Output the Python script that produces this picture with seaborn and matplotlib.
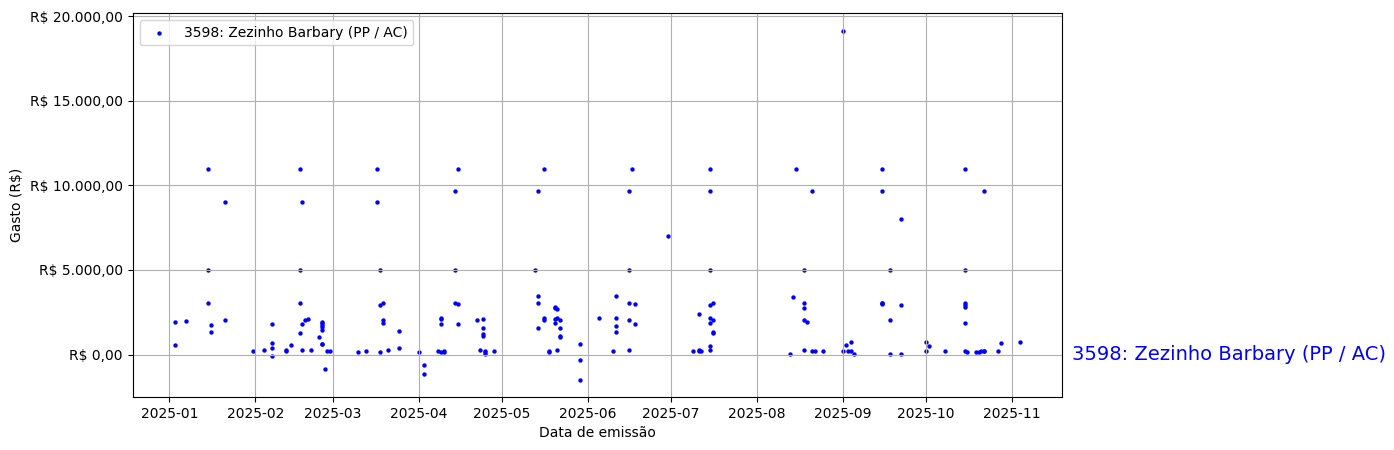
import pandas as pd
import matplotlib
matplotlib.use("Agg")
import matplotlib.pyplot as plt
import matplotlib.dates as mdates
import matplotlib.transforms as mtransforms
from matplotlib.ticker import FuncFormatter
import seaborn as sns

# --- DADOS ---
PARLAMENTAR = "3598: Zezinho Barbary (PP / AC)"
OUTPUT_CHART = "out.png"

datas = [
    "2025-01-03", "2025-01-03", "2025-01-07", "2025-01-15", "2025-01-15", "2025-01-15",
    "2025-01-16", "2025-01-16", "2025-01-21", "2025-01-21", "2025-01-31",
    "2025-02-04", "2025-02-07", "2025-02-07", "2025-02-07", "2025-02-07",
    "2025-02-12", "2025-02-12", "2025-02-14",
    "2025-02-17", "2025-02-17", "2025-02-17", "2025-02-17",
    "2025-02-18", "2025-02-18", "2025-02-18", "2025-02-19", "2025-02-20", "2025-02-21",
    "2025-02-24", "2025-02-25", "2025-02-25", "2025-02-25", "2025-02-25", "2025-02-25",
    "2025-02-25", "2025-02-25", "2025-02-26", "2025-02-27", "2025-02-28",
    "2025-03-10", "2025-03-13", "2025-03-17", "2025-03-17",
    "2025-03-18", "2025-03-18", "2025-03-18", "2025-03-19", "2025-03-19", "2025-03-19",
    "2025-03-21", "2025-03-25", "2025-03-25",
    "2025-04-01", "2025-04-03", "2025-04-03", "2025-04-08",
    "2025-04-09", "2025-04-09", "2025-04-09", "2025-04-09", "2025-04-10", "2025-04-10",
    "2025-04-14", "2025-04-14", "2025-04-14", "2025-04-15", "2025-04-15", "2025-04-15",
    "2025-04-22", "2025-04-23", "2025-04-24", "2025-04-24", "2025-04-24", "2025-04-24",
    "2025-04-25", "2025-04-25", "2025-04-25", "2025-04-28",
    "2025-05-13", "2025-05-14", "2025-05-14", "2025-05-14", "2025-05-14",
    "2025-05-16", "2025-05-16", "2025-05-16", "2025-05-18", "2025-05-18",
    "2025-05-20", "2025-05-20", "2025-05-20", "2025-05-20",
    "2025-05-21", "2025-05-21", "2025-05-21",
    "2025-05-22", "2025-05-22", "2025-05-22", "2025-05-22",
    "2025-05-29", "2025-05-29", "2025-05-29",
    "2025-06-05", "2025-06-10", "2025-06-11", "2025-06-11", "2025-06-11", "2025-06-11",
    "2025-06-16", "2025-06-16", "2025-06-16", "2025-06-16", "2025-06-16",
    "2025-06-17", "2025-06-18", "2025-06-18", "2025-06-30",
    "2025-07-09", "2025-07-11", "2025-07-11", "2025-07-11", "2025-07-12",
    "2025-07-15", "2025-07-15", "2025-07-15", "2025-07-15", "2025-07-15",
    "2025-07-15", "2025-07-15", "2025-07-15",
    "2025-07-16", "2025-07-16", "2025-07-16", "2025-07-16",
    "2025-08-13", "2025-08-14", "2025-08-15",
    "2025-08-18", "2025-08-18", "2025-08-18", "2025-08-18", "2025-08-18",
    "2025-08-19", "2025-08-21", "2025-08-21", "2025-08-22", "2025-08-25",
    "2025-09-01", "2025-09-01", "2025-09-02", "2025-09-03", "2025-09-04", "2025-09-04",
    "2025-09-05",
    "2025-09-15", "2025-09-15", "2025-09-15", "2025-09-15", "2025-09-15",
    "2025-09-18", "2025-09-18", "2025-09-18", "2025-09-22", "2025-09-22", "2025-09-22",
    "2025-10-01", "2025-10-01", "2025-10-02", "2025-10-08",
    "2025-10-15", "2025-10-15", "2025-10-15", "2025-10-15", "2025-10-15",
    "2025-10-15", "2025-10-15", "2025-10-16",
    "2025-10-19", "2025-10-20", "2025-10-21", "2025-10-22", "2025-10-22", "2025-10-22",
    "2025-10-27", "2025-10-28", "2025-11-04",
]

valores = [
    1950, 540, 2010, 11000, 5000, 3020,
    1720, 1360, 9000, 2070, 180,
    240, 1780, 710, 360, -60,
    240, 180, 590,
    11000, 5000, 3020, 1300,
    9000, 1780, 240, 2070, 2130, 240,
    1010, 1950, 1840, 1720, 1600, 1480,
    650, 620, -830, 180, 180,
    120, 180, 11000, 9000,
    5000, 2900, 120, 3020, 2070, 1890,
    240, 1420, 410,
    120, -590, -1180, 180,
    130, 2190, 2130, 1780, 120, 180,
    9650, 5000, 3020, 11000, 2960, 1830,
    2070, 240, 2130, 1540, 1240, 1120,
    120, 180, 60, 180,
    5000, 9650, 3490, 3020, 1540,
    11000, 2190, 2070, 180, 120,
    2840, 2780, 2130, 1890,
    2720, 2190, 240,
    1540, 1120, 1010, 2070,
    650, -300, -1480,
    2190, 180, 3490, 2190, 1660, 1360,
    9650, 5000, 3020, 2070, 240,
    11000, 2960, 1830, 7000,
    180, 180, 240, 2370, 180,
    530, 240, 11000, 9650, 5000,
    2900, 2190, 1890,
    3020, 2070, 1360, 1300,
    60, 3430, 11000,
    5000, 3020, 2780, 2070, 240,
    1950, 9650, 180, 180, 180,
    19150, 180, 590, 180, 180, 770,
    60,
    11000, 9650, 3020, 2960, 3020,
    5000, 2070, 10, 8000, 2900, 60,
    770, 180, 530, 180,
    11000, 5000, 3020, 2900, 2840,
    1890, 180, 120,
    120, 120, 180, 180, 180, 9650,
    180, 710, 770,
]


def formata_real(v, pos=None):
    s = f"{v:,.2f}"
    s = s.replace(",", "X").replace(".", ",").replace("X", ".")
    return f"R$ {s}"


def plot_gastos():
    df = pd.DataFrame({"Data": pd.to_datetime(datas), "Gasto": valores})

    fig = plt.figure(figsize=(13.94, 4.5), dpi=100)
    ax = fig.add_axes([0.0952, 0.1178, 0.6669, 0.8526])

    sns.scatterplot(
        data=df,
        x="Data",
        y="Gasto",
        color="blue",
        s=10,
        linewidth=0,
        label=PARLAMENTAR,
        ax=ax,
    )

    ax.set_xlabel("Data de emissão")
    ax.set_ylabel("Gasto (R$)")
    ax.yaxis.set_major_formatter(FuncFormatter(formata_real))
    ax.xaxis.set_major_locator(mdates.MonthLocator())
    ax.xaxis.set_major_formatter(mdates.DateFormatter("%Y-%m"))
    ax.grid(True)
    ax.legend(loc="upper left")

    # nome do parlamentar na lateral, na altura do zero
    trans = mtransforms.blended_transform_factory(ax.transAxes, ax.transData)
    ax.text(1.01, 0, PARLAMENTAR, transform=trans, color="blue",
            fontsize=14, va="center", ha="left")

    fig.savefig(OUTPUT_CHART, dpi=100)
    print(f"Gráfico salvo em '{OUTPUT_CHART}'")


if __name__ == "__main__":
    plot_gastos()
